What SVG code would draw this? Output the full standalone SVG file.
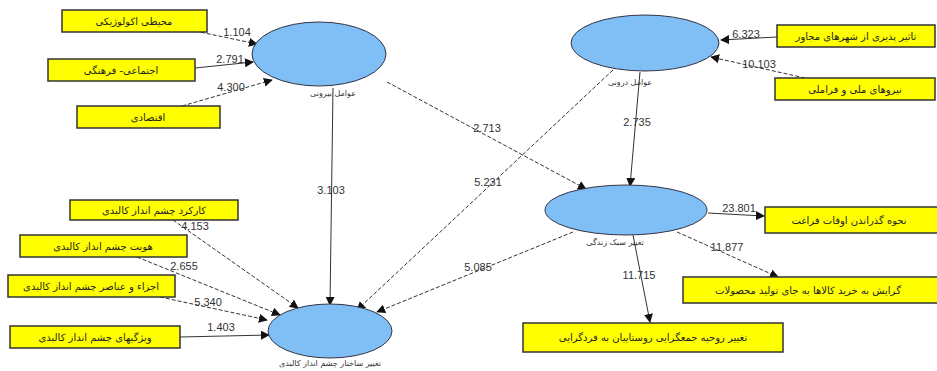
<svg xmlns="http://www.w3.org/2000/svg" width="937" height="371" viewBox="0 0 937 371">
<style>
.box{fill:#FFFF00;stroke:#333;stroke-width:1.5}
.ell{fill:#80BFF5;stroke:#334;stroke-width:1}
.bt{font-family:"DejaVu Sans",sans-serif;font-size:10px;fill:#222;text-anchor:middle;direction:rtl}
.et{font-family:"DejaVu Sans",sans-serif;font-size:8px;fill:#333;text-anchor:middle;direction:rtl}
.num{font-family:"Liberation Sans",Arial,sans-serif;font-size:11px;fill:#333;text-anchor:middle}
.ln{fill:none;stroke:#333;stroke-width:1;marker-end:url(#ah)}
.ds{stroke-dasharray:4,2}
</style>
<defs>
<marker id="ah" viewBox="0 0 10 10" refX="9" refY="5" markerWidth="9" markerHeight="9" markerUnits="userSpaceOnUse" orient="auto">
<path d="M0,0 L10,5 L0,10 z" fill="#111"/>
</marker>
</defs>
<rect width="937" height="371" fill="#fff"/>
<g id="connectors">
<line class="ln ds" x1="195" y1="31" x2="257" y2="44"/>
<line class="ln" x1="195" y1="68" x2="253" y2="62"/>
<line class="ln ds" x1="182" y1="106" x2="272" y2="80"/>
<line class="ln" x1="777" y1="37" x2="721" y2="40"/>
<line class="ln ds" x1="805" y1="78" x2="711" y2="57"/>
<line class="ln" x1="333" y1="88" x2="330" y2="305"/>
<line class="ln ds" x1="387" y1="82" x2="586" y2="189"/>
<line class="ln ds" x1="613" y1="70" x2="357" y2="310"/>
<line class="ln" x1="640" y1="72" x2="630" y2="186"/>
<line class="ln ds" x1="573" y1="232" x2="377" y2="312"/>
<line class="ln" x1="708" y1="213" x2="764" y2="216"/>
<line class="ln ds" x1="677" y1="232" x2="778" y2="277"/>
<line class="ln" x1="633" y1="235" x2="650" y2="322"/>
<line class="ln ds" x1="173" y1="220" x2="298" y2="308"/>
<line class="ln ds" x1="137" y1="257" x2="280" y2="315"/>
<line class="ln ds" x1="160" y1="297" x2="267" y2="320"/>
<line class="ln" x1="180" y1="337" x2="269" y2="335"/>
<text class="num" x="237" y="36">1.104</text>
<text class="num" x="230" y="63">2.791</text>
<text class="num" x="231" y="91">4.300</text>
<text class="num" x="746" y="38">6.323</text>
<text class="num" x="759" y="68">10.103</text>
<text class="num" x="331" y="194">3.103</text>
<text class="num" x="487" y="132">2.713</text>
<text class="num" x="488" y="186">5.231</text>
<text class="num" x="637" y="126">2.735</text>
<text class="num" x="478" y="271">5.085</text>
<text class="num" x="739" y="212">23.801</text>
<text class="num" x="727" y="251">11.877</text>
<text class="num" x="639" y="279">11.715</text>
<text class="num" x="195" y="230">4.153</text>
<text class="num" x="184" y="270">2.655</text>
<text class="num" x="208" y="306">5.340</text>
<text class="num" x="221" y="331">1.403</text>
</g>
<g id="n-external">
<ellipse class="ell" cx="319" cy="54" rx="67" ry="32"/>
<text class="et" x="333" y="96">عوامل بیرونی</text>
</g>
<g id="n-internal">
<ellipse class="ell" cx="645" cy="43" rx="74" ry="28"/>
<text class="et" x="630" y="85">عوامل درونی</text>
</g>
<g id="n-lifestyle">
<ellipse class="ell" cx="626" cy="210" rx="81" ry="25"/>
<text class="et" x="615" y="245">تغییر سبک زندگی</text>
</g>
<g id="n-landscape">
<ellipse class="ell" cx="330" cy="331" rx="62" ry="27"/>
<text class="et" x="330" y="366">تغییر ساختار چشم انداز کالبدی</text>
</g>
<g id="b1"><rect class="box" x="62" y="10" width="145" height="22"/><text class="bt" x="134" y="25">محیطی اکولوژیکی</text></g>
<g id="b2"><rect class="box" x="48" y="59" width="147" height="22"/><text class="bt" x="121" y="74">اجتماعی- فرهنگی</text></g>
<g id="b3"><rect class="box" x="77" y="106" width="143" height="22"/><text class="bt" x="148" y="121">اقتصادی</text></g>
<g id="b4"><rect class="box" x="777" y="25" width="158" height="22"/><text class="bt" x="856" y="40">تاثیر پذیری از شهرهای مجاور</text></g>
<g id="b5"><rect class="box" x="775" y="78" width="160" height="22"/><text class="bt" x="855" y="93">نیروهای ملی و فراملی</text></g>
<g id="b6"><rect class="box" x="70" y="200" width="168" height="20"/><text class="bt" x="154" y="214">کارکرد چشم انداز کالبدی</text></g>
<g id="b7"><rect class="box" x="20" y="235" width="167" height="22"/><text class="bt" x="103" y="250">هویت چشم انداز کالبدی</text></g>
<g id="b8"><rect class="box" x="8" y="275" width="167" height="22"/><text class="bt" x="91" y="290">اجزاء و عناصر چشم انداز کالبدی</text></g>
<g id="b9"><rect class="box" x="10" y="326" width="170" height="22"/><text class="bt" x="95" y="341">ویژگیهای چشم انداز کالبدی</text></g>
<g id="b10"><rect class="box" x="765" y="207" width="175" height="26"/><text class="bt" x="849" y="224">نحوه گذراندن اوقات فراغت</text></g>
<g id="b11"><rect class="box" x="683" y="277" width="257" height="26"/><text class="bt" x="808" y="294">گرایش به خرید کالاها به جای تولید محصولات</text></g>
<g id="b12"><rect class="box" x="523" y="323" width="260" height="29"/><text class="bt" x="653" y="341">تغییر روحیه جمعگرایی روستاییان به فردگرایی</text></g>
</svg>
